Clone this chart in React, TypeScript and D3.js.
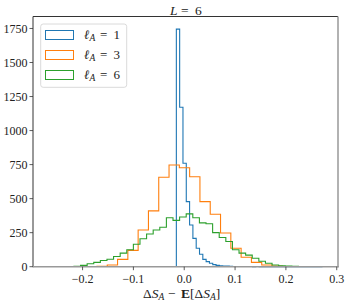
import * as d3 from "d3";

// bin layout (data units)
const blueStart = -0.0155;
const blueWidth = 0.00651;
const blueCounts = [1745, 1171, 760, 478, 306, 208, 135, 91, 54, 37, 25, 15, 10, 7, 5, 4, 3, 2, 2, 1, 1, 1, 1, 0, 1, 0, 0, 0, 0, 0, 0, 0, 0, 0, 0, 0, 0, 0, 0, 0, 0, 0, 0, 0, 1];

const orangeStart = -0.1717;
const orangeWidth = 0.02026;
const orangeCounts = [3, 12, 54, 120, 270, 410, 657, 747, 727, 661, 478, 385, 248, 135, 69, 32, 12, 5, 2];

const greenStart = -0.2689;
const greenWidth = 0.01299;
const greenCounts = [1, 1, 2, 2, 3, 10, 22, 32, 45, 55, 75, 100, 125, 165, 205, 240, 270, 290, 360, 340, 365, 388, 360, 322, 315, 250, 215, 185, 125, 100, 85, 62, 40, 25, 12, 6, 4, 3, 2, 1, 1, 1];

const xTicks = [-0.2, -0.1, 0.0, 0.1, 0.2, 0.3];
const yTicks = [0, 250, 500, 750, 1000, 1250, 1500, 1750];

const series = [
  { label: "1", color: "#1f77b4", start: blueStart, width: blueWidth, counts: blueCounts },
  { label: "3", color: "#ff7f0e", start: orangeStart, width: orangeWidth, counts: orangeCounts },
  { label: "6", color: "#2ca02c", start: greenStart, width: greenWidth, counts: greenCounts },
];

const W = 349;
const H = 304;
const left = 33;
const right = 338;
const top = 16.5;
const bottom = 266.7;
const FONT = "Liberation Serif";

const x = d3.scaleLinear().domain([-0.2975, 0.3025]).range([left, right]);
const y = d3.scaleLinear().domain([0, 1838]).range([bottom, top]);

function stepPath(start: number, width: number, counts: number[]) {
  const p = d3.path();
  p.moveTo(x(start), y(0));
  counts.forEach((c, i) => {
    p.lineTo(x(start + i * width), y(c));
    p.lineTo(x(start + (i + 1) * width), y(c));
  });
  p.lineTo(x(start + counts.length * width), y(0));
  return p.toString();
}

const fmtX = (v: number) => (v < 0 ? "\u2212" : "") + Math.abs(v).toFixed(1);

export default function App() {
  return (
    <div style={{ position: "fixed", left: 0, top: 0 }}>
      <svg width={W} height={H} fontFamily={FONT} style={{ display: "block", background: "#fff" }}>
        <rect width={W} height={H} fill="#fff" />

        {series.map((s) => (
          <path
            key={s.label}
            d={stepPath(s.start, s.width, s.counts)}
            fill="none"
            stroke={s.color}
            strokeWidth={1.1}
          />
        ))}

        {/* spines */}
        <line x1={left} x2={left} y1={top} y2={bottom + 0.5} stroke="#333" strokeWidth={1} />
        <line x1={left} x2={right} y1={top} y2={top} stroke="#333" strokeWidth={1} />
        <line x1={right} x2={right} y1={top} y2={bottom + 0.5} stroke="#999" strokeWidth={1.5} />
        <line x1={left} x2={right + 0.7} y1={bottom} y2={bottom} stroke="#999" strokeWidth={1.6} />

        {/* y ticks */}
        {yTicks.map((t) => (
          <g key={t}>
            <line x1={left - 3.5} x2={left} y1={y(t)} y2={y(t)} stroke="#333" strokeWidth={0.8} />
            <text x={left - 5.5} y={y(t)} dy="0.36em" textAnchor="end" fontSize={12} fill="#222">
              {t}
            </text>
          </g>
        ))}

        {/* x ticks */}
        {xTicks.map((t) => (
          <g key={t}>
            <line x1={x(t)} x2={x(t)} y1={bottom} y2={bottom + 3.5} stroke="#333" strokeWidth={0.8} />
            <text x={x(t)} y={282.5} textAnchor="middle" fontSize={12} fill="#222">
              {fmtX(t)}
            </text>
          </g>
        ))}

        {/* title */}
        <text y={14.5} fontSize={13.5} fill="#222">
          <tspan x={170} fontStyle="italic">L</tspan>
          <tspan x={181}>=</tspan>
          <tspan x={195}>6</tspan>
        </text>

        {/* x label */}
        <text y={297.5} fontSize={13.5} fill="#222">
          <tspan x={143}>Δ</tspan>
          <tspan fontStyle="italic">S</tspan>
          <tspan fontStyle="italic" fontSize={9.5} dy={2.5}>A</tspan>
          <tspan x={168} dy={-2.5}>−</tspan>
          <tspan x={181} fontWeight="bold">E</tspan>
          <tspan>[Δ</tspan>
          <tspan fontStyle="italic">S</tspan>
          <tspan fontStyle="italic" fontSize={9.5} dy={2.5}>A</tspan>
          <tspan dy={-2.5}>]</tspan>
        </text>

        {/* legend */}
        <rect
          x={40.7}
          y={24}
          width={86}
          height={63.3}
          rx={2.5}
          fill="#fff"
          fillOpacity={0.8}
          stroke="#d6d6d6"
          strokeWidth={0.9}
        />
        {series.map((s, i) => (
          <g key={s.label} transform={`translate(0, ${i * 20})`}>
            <rect x={45.5} y={30.5} width={28} height={9} fill="none" stroke={s.color} strokeWidth={1} />
            <text y={38.8} fontSize={13} fill="#222">
              <tspan x={84} fontStyle="italic">ℓ</tspan>
              <tspan fontStyle="italic" fontSize={9.5} dy={2.5}>A</tspan>
              <tspan x={100} dy={-2.5}>=</tspan>
              <tspan x={113.5}>{s.label}</tspan>
            </text>
          </g>
        ))}
      </svg>
    </div>
  );
}
